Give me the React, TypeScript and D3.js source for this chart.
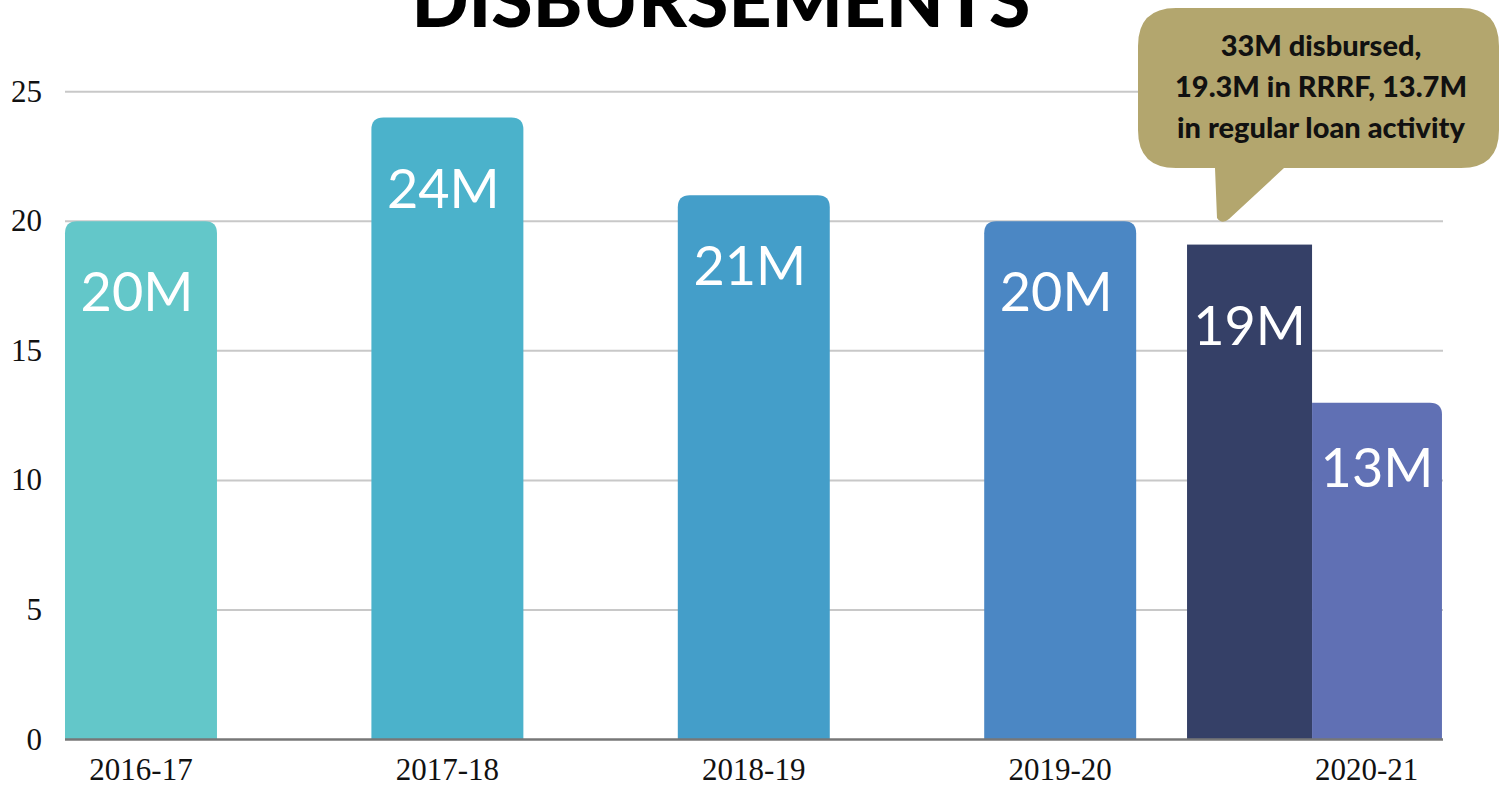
import React from "react";
import * as d3 from "d3";

const categories = ["2016-17", "2017-18", "2018-19", "2019-20", "2020-21"];
const totals = [20, 24, 21, 20, null];
const rrrfValues = [null, null, null, null, 19.1];
const regularValues = [null, null, null, null, 13];
const barLabels = ["20M", "24M", "21M", "20M"];
const rrrfLabel = "19M";
const regularLabel = "13M";
const yTicks = [0, 5, 10, 15, 20, 25];
const barColors = ["#63C7C9", "#4BB2CB", "#449EC9", "#4B87C4"];
const rrrfColor = "#354067";
const regularColor = "#6070B4";
const title = "DISBURSEMENTS";
const calloutLines = ["33M disbursed,", "19.3M in RRRF, 13.7M", "in regular loan activity"];

const W = 1499;
const H = 785;
const left = 65;
const right = 1443;

function topRounded(x: number, y: number, w: number, h: number, rl: number, rr: number) {
  return `M${x},${y + h} L${x},${y + rl} Q${x},${y} ${x + rl},${y} L${x + w - rr},${y} Q${x + w},${y} ${x + w},${y + rr} L${x + w},${y + h} Z`;
}

export default function App() {
  const y = d3.scaleLinear().domain([0, 25]).range([739.5, 91.7]);
  const x = d3.scaleBand<string>().domain(categories).range([left, left + 5 * 306.4]).padding(0);
  const bw = x.bandwidth();
  const barW = bw * 0.496;
  const labelFont = "Lato, 'Noto Sans', sans-serif";
  const serif = "'Liberation Serif', 'DejaVu Serif', serif";

  const lastCat = categories[4];
  const x4 = x(lastCat) as number;
  const darkX0 = x4 - bw * 0.338;
  const darkX1 = x4 + bw * 0.07;
  const lightX1 = x4 + bw * 0.494;

  // callout
  const cx0 = 1138, cx1 = 1499, cy0 = 8, cy1 = 168, r = 38;
  const calloutPath = `M${cx0 + r},${cy0} L${cx1 - r},${cy0} Q${cx1},${cy0} ${cx1},${cy0 + r} L${cx1},${cy1 - r} Q${cx1},${cy1} ${cx1 - r},${cy1} L1284,${cy1} L1229,219 Q1222,225 1217,218 L1215,${cy1} L${cx0 + r},${cy1} Q${cx0},${cy1} ${cx0},${cy1 - r} L${cx0},${cy0 + r} Q${cx0},${cy0} ${cx0 + r},${cy0} Z`;

  return (
    <svg width={W} height={H} style={{ position: "fixed", left: 0, top: 0, background: "#fff" }}>
      {/* gridlines */}
      {yTicks.filter((t) => t > 0).map((t) => (
        <line key={t} x1={left} x2={right} y1={y(t)} y2={y(t)} stroke="#c8c8c8" strokeWidth={2} />
      ))}
      {/* y tick labels */}
      {yTicks.map((t) => (
        <text key={"yl" + t} x={42} y={y(t) + 10} textAnchor="end" fontFamily={serif} fontSize={31} fill="#111">
          {t}
        </text>
      ))}
      {/* bars */}
      {totals.map((v, i) =>
        v == null ? null : (
          <g key={"b" + i}>
            <path d={topRounded(x(categories[i]) as number, y(v), barW, y(0) - y(v), 12, 12)} fill={barColors[i]} />
            <text
              x={(x(categories[i]) as number) + barW / 2 - 4}
              y={y(v) + 90}
              textAnchor="middle"
              fontFamily={labelFont}
              fontSize={54}
              fill="#fff"
            >
              {barLabels[i]}
            </text>
          </g>
        )
      )}
      {/* 2020-21 split */}
      {rrrfValues[4] != null && (
        <g>
          <rect x={darkX0} y={y(rrrfValues[4] as number)} width={darkX1 - darkX0} height={y(0) - y(rrrfValues[4] as number)} fill={rrrfColor} />
          <text x={(darkX0 + darkX1) / 2} y={y(rrrfValues[4] as number) + 100} textAnchor="middle" fontFamily={labelFont} fontSize={54} fill="#fff">
            {rrrfLabel}
          </text>
        </g>
      )}
      {regularValues[4] != null && (
        <g>
          <path d={topRounded(darkX1, y(regularValues[4] as number), lightX1 - darkX1, y(0) - y(regularValues[4] as number), 0, 12)} fill={regularColor} />
          <text x={(darkX1 + lightX1) / 2} y={y(regularValues[4] as number) + 84} textAnchor="middle" fontFamily={labelFont} fontSize={54} fill="#fff">
            {regularLabel}
          </text>
        </g>
      )}
      {/* baseline */}
      <line x1={left} x2={right} y1={y(0)} y2={y(0)} stroke="#777" strokeWidth={2.5} />
      {/* x labels */}
      {categories.map((c) => (
        <text key={"xl" + c} x={(x(c) as number) + barW / 2} y={780} textAnchor="middle" fontFamily={serif} fontSize={31} fill="#111">
          {c}
        </text>
      ))}
      {/* title */}
      <text x={721} y={27} textAnchor="middle" fontFamily={labelFont} fontWeight={900} fontSize={75} fill="#000">
        {title}
      </text>
      {/* callout */}
      <path d={calloutPath} fill="#B3A66E" />
      {calloutLines.map((l, i) => (
        <text key={"cl" + i} x={1321} y={56 + i * 41} textAnchor="middle" fontFamily={labelFont} fontWeight={900} fontSize={29} fill="#111">
          {l}
        </text>
      ))}
    </svg>
  );
}
